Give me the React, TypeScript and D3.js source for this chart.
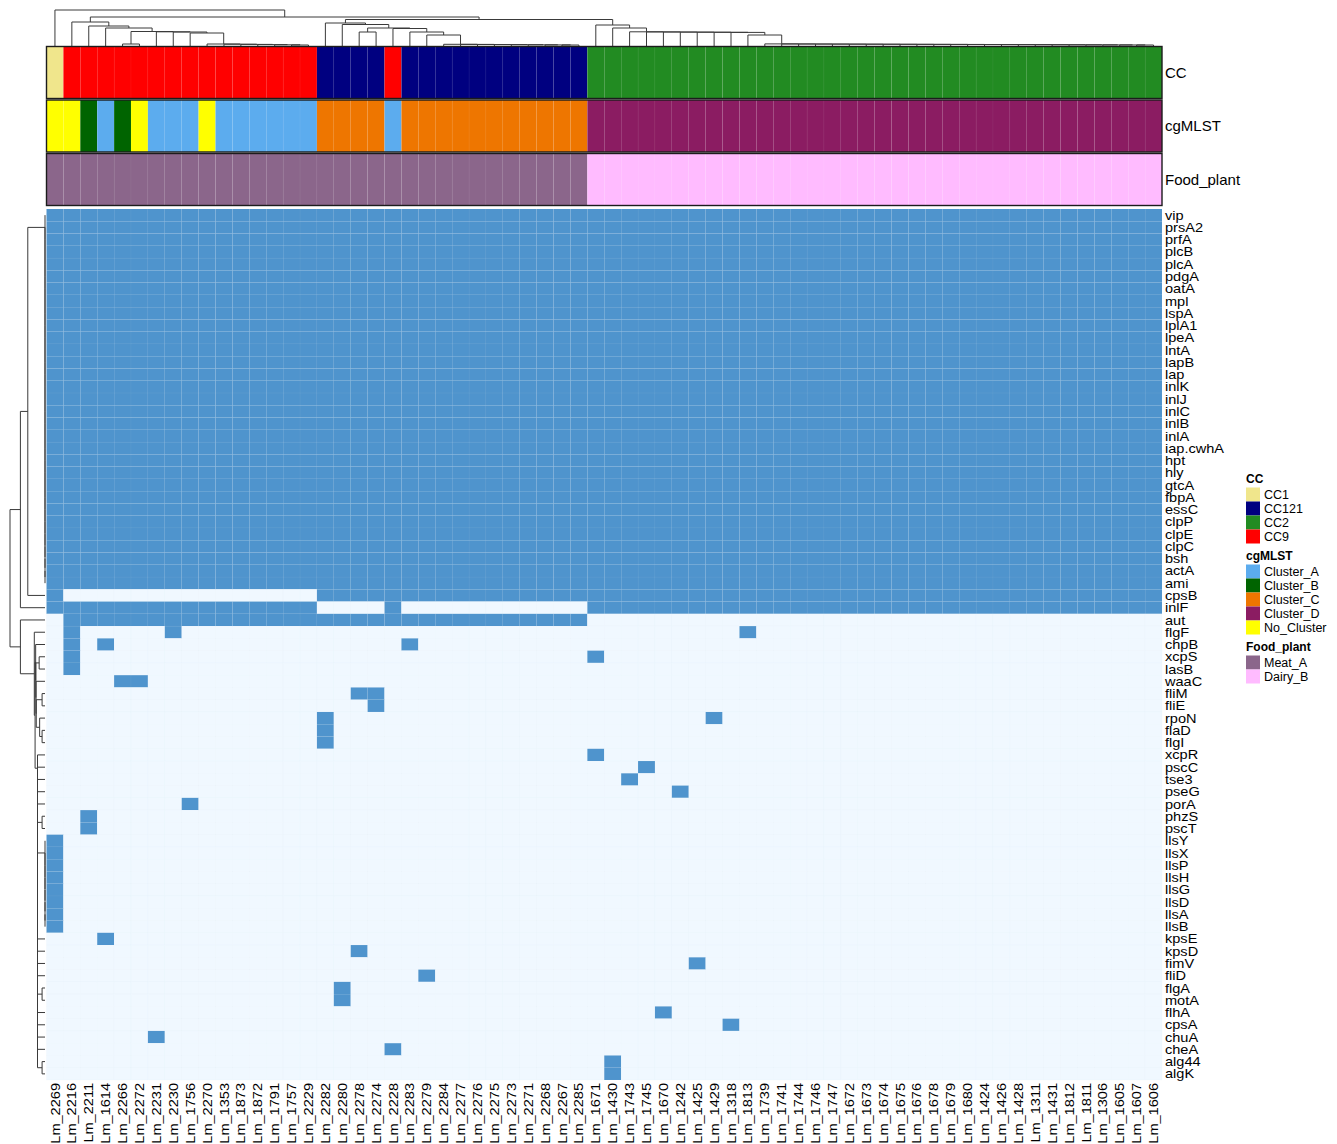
import React from "react";
import * as d3 from "d3";

// ---------------- DATA ----------------
const columns: string[] = [
  "Lm_2269", "Lm_2216", "Lm_2211", "Lm_1614", "Lm_2266", "Lm_2272", "Lm_2231", "Lm_2230", "Lm_1756", "Lm_2270",
  "Lm_1353", "Lm_1873", "Lm_1872", "Lm_1791", "Lm_1757", "Lm_2229", "Lm_2282", "Lm_2280", "Lm_2278", "Lm_2274",
  "Lm_2228", "Lm_2283", "Lm_2279", "Lm_2284", "Lm_2277", "Lm_2276", "Lm_2275", "Lm_2273", "Lm_2271", "Lm_2268",
  "Lm_2267", "Lm_2285", "Lm_1671", "Lm_1430", "Lm_1743", "Lm_1745", "Lm_1670", "Lm_1242", "Lm_1425", "Lm_1429",
  "Lm_1318", "Lm_1813", "Lm_1739", "Lm_1741", "Lm_1744", "Lm_1746", "Lm_1747", "Lm_1672", "Lm_1673", "Lm_1674",
  "Lm_1675", "Lm_1676", "Lm_1678", "Lm_1679", "Lm_1680", "Lm_1424", "Lm_1426", "Lm_1428", "Lm_1311", "Lm_1431",
  "Lm_1812", "Lm_1811", "Lm_1306", "Lm_1605", "Lm_1607", "Lm_1606",
];

const genes: string[] = [
  "vip", "prsA2", "prfA", "plcB", "plcA", "pdgA", "oatA", "mpl", "lspA", "lplA1", "lpeA", "lntA", "lapB", "lap",
  "inlK", "inlJ", "inlC", "inlB", "inlA", "iap.cwhA", "hpt", "hly", "gtcA", "fbpA", "essC", "clpP", "clpE", "clpC",
  "bsh", "actA", "ami", "cpsB", "inlF", "aut", "flgF", "chpB", "xcpS", "lasB", "waaC", "fliM", "fliE", "rpoN",
  "flaD", "flgI", "xcpR", "pscC", "tse3", "pseG", "porA", "phzS", "pscT", "llsY", "llsX", "llsP", "llsH", "llsG",
  "llsD", "llsA", "llsB", "kpsE", "kpsD", "fimV", "fliD", "flgA", "motA", "flhA", "cpsA", "chuA", "cheA", "alg44",
  "algK",
];

// presence (1) per gene, given as inclusive ranges of column indices
const presence: [number, number][][] = [
  [[0, 65]], [[0, 65]], [[0, 65]], [[0, 65]], [[0, 65]], [[0, 65]], [[0, 65]], [[0, 65]], [[0, 65]], [[0, 65]],
  [[0, 65]], [[0, 65]], [[0, 65]], [[0, 65]], [[0, 65]], [[0, 65]], [[0, 65]], [[0, 65]], [[0, 65]], [[0, 65]],
  [[0, 65]], [[0, 65]], [[0, 65]], [[0, 65]], [[0, 65]], [[0, 65]], [[0, 65]], [[0, 65]], [[0, 65]], [[0, 65]],
  [[0, 65]],
  [[0, 0], [16, 65]],            // cpsB
  [[0, 15], [20, 20], [32, 65]], // inlF
  [[1, 31]],                     // aut
  [[1, 1], [7, 7], [41, 41]],    // flgF
  [[1, 1], [3, 3], [21, 21]],    // chpB
  [[1, 1], [32, 32]],            // xcpS
  [[1, 1]],                      // lasB
  [[4, 5]],                      // waaC
  [[18, 19]],                    // fliM
  [[19, 19]],                    // fliE
  [[16, 16], [39, 39]],          // rpoN
  [[16, 16]],                    // flaD
  [[16, 16]],                    // flgI
  [[32, 32]],                    // xcpR
  [[35, 35]],                    // pscC
  [[34, 34]],                    // tse3
  [[37, 37]],                    // pseG
  [[8, 8]],                      // porA
  [[2, 2]],                      // phzS
  [[2, 2]],                      // pscT
  [[0, 0]], [[0, 0]], [[0, 0]], [[0, 0]], [[0, 0]], [[0, 0]], [[0, 0]], [[0, 0]], // lls*
  [[3, 3]],                      // kpsE
  [[18, 18]],                    // kpsD
  [[38, 38]],                    // fimV
  [[22, 22]],                    // fliD
  [[17, 17]],                    // flgA
  [[17, 17]],                    // motA
  [[36, 36]],                    // flhA
  [[40, 40]],                    // cpsA
  [[6, 6]],                      // chuA
  [[20, 20]],                    // cheA
  [[33, 33]],                    // alg44
  [[33, 33]],                    // algK
];

const ccValues: string[] = [
  "CC1", "CC9", "CC9", "CC9", "CC9", "CC9", "CC9", "CC9", "CC9", "CC9", "CC9", "CC9", "CC9", "CC9", "CC9", "CC9",
  "CC121", "CC121", "CC121", "CC121", "CC9", "CC121", "CC121", "CC121", "CC121", "CC121", "CC121", "CC121",
  "CC121", "CC121", "CC121", "CC121",
  "CC2", "CC2", "CC2", "CC2", "CC2", "CC2", "CC2", "CC2", "CC2", "CC2", "CC2", "CC2", "CC2", "CC2", "CC2", "CC2",
  "CC2", "CC2", "CC2", "CC2", "CC2", "CC2", "CC2", "CC2", "CC2", "CC2", "CC2", "CC2", "CC2", "CC2", "CC2", "CC2",
  "CC2", "CC2",
];

const cgmlstValues: string[] = [
  "No_Cluster", "No_Cluster", "Cluster_B", "Cluster_A", "Cluster_B", "No_Cluster", "Cluster_A", "Cluster_A",
  "Cluster_A", "No_Cluster", "Cluster_A", "Cluster_A", "Cluster_A", "Cluster_A", "Cluster_A", "Cluster_A",
  "Cluster_C", "Cluster_C", "Cluster_C", "Cluster_C", "Cluster_A", "Cluster_C", "Cluster_C", "Cluster_C",
  "Cluster_C", "Cluster_C", "Cluster_C", "Cluster_C", "Cluster_C", "Cluster_C", "Cluster_C", "Cluster_C",
  "Cluster_D", "Cluster_D", "Cluster_D", "Cluster_D", "Cluster_D", "Cluster_D", "Cluster_D", "Cluster_D",
  "Cluster_D", "Cluster_D", "Cluster_D", "Cluster_D", "Cluster_D", "Cluster_D", "Cluster_D", "Cluster_D",
  "Cluster_D", "Cluster_D", "Cluster_D", "Cluster_D", "Cluster_D", "Cluster_D", "Cluster_D", "Cluster_D",
  "Cluster_D", "Cluster_D", "Cluster_D", "Cluster_D", "Cluster_D", "Cluster_D", "Cluster_D", "Cluster_D",
  "Cluster_D", "Cluster_D",
];

const foodPlantValues: string[] = [
  "Meat_A", "Meat_A", "Meat_A", "Meat_A", "Meat_A", "Meat_A", "Meat_A", "Meat_A", "Meat_A", "Meat_A", "Meat_A",
  "Meat_A", "Meat_A", "Meat_A", "Meat_A", "Meat_A", "Meat_A", "Meat_A", "Meat_A", "Meat_A", "Meat_A", "Meat_A",
  "Meat_A", "Meat_A", "Meat_A", "Meat_A", "Meat_A", "Meat_A", "Meat_A", "Meat_A", "Meat_A", "Meat_A",
  "Dairy_B", "Dairy_B", "Dairy_B", "Dairy_B", "Dairy_B", "Dairy_B", "Dairy_B", "Dairy_B", "Dairy_B", "Dairy_B",
  "Dairy_B", "Dairy_B", "Dairy_B", "Dairy_B", "Dairy_B", "Dairy_B", "Dairy_B", "Dairy_B", "Dairy_B", "Dairy_B",
  "Dairy_B", "Dairy_B", "Dairy_B", "Dairy_B", "Dairy_B", "Dairy_B", "Dairy_B", "Dairy_B", "Dairy_B", "Dairy_B",
  "Dairy_B", "Dairy_B", "Dairy_B", "Dairy_B",
];

const ccLevels = ["CC1", "CC121", "CC2", "CC9"];
const ccColors = ["#F0E68C", "#000080", "#228B22", "#FF0000"];
const cgmlstLevels = ["Cluster_A", "Cluster_B", "Cluster_C", "Cluster_D", "No_Cluster"];
const cgmlstColors = ["#5CACEE", "#006400", "#EE7600", "#8B1C62", "#FFFF00"];
const foodLevels = ["Meat_A", "Dairy_B"];
const foodColors = ["#8B668B", "#FFBBFF"];
const heatColors = ["#F0F8FF", "#4F94CD"]; // absent, present

// Column dendrogram (Newick; leaves = column index, ":h" = merge height)
const colRed =
  "(1,(2,(3,((4,5):2,(6,(7,(8,(9,(10,(11,(12,(13,(14,15):1.0):1.2):1.4):1.6):1.8):2.0):13):14):14.2):14.5):18):20):24";
const colNavy =
  "(16,(17,((18,19):14,(20,(21,(22,(23,(24,(25,(26,(27,(28,(29,(30,31):1.0):1.1):1.2):1.3):1.4):1.5):1.6):1.7):11):14):17.5):18):21.5):23";
const colGreenFlat =
  "(42,(43,(44,(45,(46,(47,(48,(49,(50,(51,(52,(53,(54,(55,(56,(57,(58,(59,(60,(61,(62,(63,(64,65" +
  "):1.0):1.05):1.1):1.15):1.2):1.25):1.3):1.35):1.4):1.45):1.5):1.55):1.6):1.65):1.7):1.75):1.8):1.85):1.9):1.95):2.0):2.05):2.1";
const colGreen =
  "(32,(33,(34,(35,(36,(37,(38,(39,(40,(41," + colGreenFlat + "):11):13.6):13.7):13.8):13.9):14.0):14.1):14.2):18):21";
const colTree = "(0,(" + colRed + ",(" + colNavy + "," + colGreen + "):26.5):29):36";
const colTreeMax = 36;

// Row dendrogram
const rowCore =
  "(0,(1,(2,(3,(4,(5,(6,(7,(8,(9,(10,(11,(12,(13,(14,(15,(16,(17,(18,(19,(20,(21,(22,(23,(24,(25,(26,(27,(28,(29,30" +
  "):0):0):0):0):0):0):0):0):0):0):0):0):0):0):0):0):0):0):0):0):0):0):0):0):0):0):0):0):0):0";
const rowLls = "(51,(52,(53,(54,(55,(56,(57,58):0):0):0):0):0):0):0";
const rowTopSub = "(35,((36,37):6,(38,((39,40):3,(41,(42,43):3):5.5):9):9.2):9.4):9.6";
const rowBottomSub =
  "(44,(45,(46,(47,(48,((49,50):3,(" + rowLls + ",(59,(60,(61,(62,((63,64):3,(65,(66,(67,(68,(69,70):3" +
  "):7.7):7.7):7.7):7.7):7.7):7.7):7.7):7.7):7.7):7.7):7.7):7.7):7.7):7.7):7.7):7.7";
const rowTree =
  "(((" + rowCore + ",31):17.7,32):25.3,(33,(34,(" + rowTopSub + "," + rowBottomSub + "):10.2):11):25.3):36";
const rowTreeMax = 36;

// ---------------- helpers ----------------
type TNode = { leaf?: number; h: number; children?: TNode[] };

function parseNewick(src: string): TNode {
  const s = src.replace(/\s+/g, "");
  let i = 0;
  function num(): number {
    const j = i;
    while (i < s.length && /[0-9.]/.test(s[i])) i++;
    return parseFloat(s.slice(j, i));
  }
  function node(): TNode {
    if (s[i] === "(") {
      i++;
      const a = node();
      i++; // ,
      const b = node();
      i++; // )
      let h = 0;
      if (s[i] === ":") {
        i++;
        h = num();
      }
      return { h, children: [a, b] };
    }
    return { leaf: num(), h: 0 };
  }
  return node();
}

type Seg = { p1: number; h1: number; p2: number; h2: number; h: number };

function layoutTree(root: TNode, leafPos: (i: number) => number): Seg[] {
  const segs: Seg[] = [];
  function walk(n: TNode): number {
    if (!n.children) return leafPos(n.leaf as number);
    const [a, b] = n.children;
    const pa = walk(a);
    const pb = walk(b);
    segs.push({ p1: pa, h1: a.h, p2: pb, h2: b.h, h: n.h });
    return (pa + pb) / 2;
  }
  walk(root);
  return segs;
}

// ---------------- component ----------------
const FONT = "'Liberation Sans', Arial, Helvetica, sans-serif";
const LABEL_SIZE = 13;
const LABEL_STRETCH = 1.12;

export default function App() {
  const W = 1337;
  const H = 1144;
  const x = d3.scaleBand<string>().domain(columns).range([46.5, 1162]).padding(0);
  const y = d3.scaleBand<string>().domain(genes).range([209, 1080]).padding(0);
  const heat = d3.scaleOrdinal<number, string>().domain([0, 1]).range(heatColors);
  const ccScale = d3.scaleOrdinal<string, string>().domain(ccLevels).range(ccColors);
  const cgScale = d3.scaleOrdinal<string, string>().domain(cgmlstLevels).range(cgmlstColors);
  const fpScale = d3.scaleOrdinal<string, string>().domain(foodLevels).range(foodColors);

  const colH = d3.scaleLinear().domain([0, colTreeMax]).range([46, 10]);
  const rowH = d3.scaleLinear().domain([0, rowTreeMax]).range([45, 10]);

  const colSegs = layoutTree(parseNewick(colTree), (i) => (x(columns[i]) as number) + x.bandwidth() / 2);
  const rowSegs = layoutTree(parseNewick(rowTree), (i) => (y(genes[i]) as number) + y.bandwidth() / 2);

  const matrix: number[][] = genes.map((_, gi) => {
    const row = columns.map(() => 0);
    presence[gi].forEach(([a, b]) => {
      for (let c = a; c <= b; c++) row[c] = 1;
    });
    return row;
  });

  const tracks = [
    { name: "CC", values: ccValues, scale: ccScale, y0: 46.5 },
    { name: "cgMLST", values: cgmlstValues, scale: cgScale, y0: 100 },
    { name: "Food_plant", values: foodPlantValues, scale: fpScale, y0: 153.5 },
  ];
  const trackH = 52;

  const legendGroups = [
    { title: "CC", levels: ccLevels, scale: ccScale, y0: 479 },
    { title: "cgMLST", levels: cgmlstLevels, scale: cgScale, y0: 556 },
    { title: "Food_plant", levels: foodLevels, scale: fpScale, y0: 647 },
  ];

  const x0 = x.range()[0];
  const x1 = x.range()[1];

  return (
    <svg
      width={W}
      height={H}
      viewBox={`0 0 ${W} ${H}`}
      style={{ position: "absolute", left: 0, top: 0, background: "#ffffff", fontFamily: FONT }}
    >
      <rect x={0} y={0} width={W} height={H} fill="#ffffff" />

      {/* column dendrogram */}
      <g fill="none" stroke="#3a3a3a" strokeWidth={1}>
        {colSegs.map((s, i) => (
          <path key={i} d={`M${s.p1},${colH(s.h1)}V${colH(s.h)}H${s.p2}V${colH(s.h2)}`} />
        ))}
      </g>

      {/* row dendrogram */}
      <g fill="none" stroke="#3a3a3a" strokeWidth={1}>
        {rowSegs.map((s, i) => (
          <path key={i} d={`M${rowH(s.h1)},${s.p1}H${rowH(s.h)}V${s.p2}H${rowH(s.h2)}`} />
        ))}
      </g>

      {/* annotation tracks */}
      {tracks.map((t) => (
        <g key={t.name}>
          {t.values.map((v, ci) => (
            <rect
              key={ci}
              x={x(columns[ci])}
              y={t.y0}
              width={x.bandwidth()}
              height={trackH}
              fill={t.scale(v)}
              stroke="rgba(255,255,255,0.07)"
              strokeWidth={0.5}
            />
          ))}
          <rect x={x0} y={t.y0} width={x1 - x0} height={trackH} fill="none" stroke="#1c1c1c" strokeWidth={1.4} />
          <text x={1165} y={t.y0 + trackH / 2} dy="0.35em" fontSize={15} fill="#000">
            {t.name}
          </text>
        </g>
      ))}

      {/* heatmap */}
      <g>
        {matrix.map((row, gi) =>
          row.map((v, ci) => (
            <rect
              key={`${gi}-${ci}`}
              x={x(columns[ci])}
              y={y(genes[gi])}
              width={x.bandwidth()}
              height={y.bandwidth()}
              fill={heat(v)}
              stroke={v ? "rgba(255,255,255,0.05)" : "rgba(79,148,205,0.03)"}
              strokeWidth={0.5}
            />
          ))
        )}
      </g>

      {/* row labels */}
      <g fontSize={LABEL_SIZE} fill="#000">
        {genes.map((g) => (
          <text
            key={g}
            transform={`translate(1165,${(y(g) as number) + y.bandwidth() / 2}) scale(${LABEL_STRETCH},1)`}
            dy="0.35em"
          >
            {g}
          </text>
        ))}
      </g>

      {/* column labels */}
      <g fontSize={LABEL_SIZE} fill="#000">
        {columns.map((c) => (
          <text
            key={c}
            transform={`translate(${(x(c) as number) + x.bandwidth() / 2},1083) rotate(-90) scale(${LABEL_STRETCH},1)`}
            textAnchor="end"
            dy="0.35em"
          >
            {c}
          </text>
        ))}
      </g>

      {/* legend */}
      {legendGroups.map((lg) => (
        <g key={lg.title}>
          <text x={1246} y={lg.y0} dy="0.35em" fontSize={12} fontWeight="bold" fill="#000">
            {lg.title}
          </text>
          {lg.levels.map((lv, k) => {
            const cy = lg.y0 + 15.5 + k * 14;
            return (
              <g key={lv}>
                <rect x={1246} y={cy - 7} width={14} height={14} fill={lg.scale(lv)} />
                <text x={1264} y={cy} dy="0.35em" fontSize={12.5} fill="#000">
                  {lv}
                </text>
              </g>
            );
          })}
        </g>
      ))}
    </svg>
  );
}
